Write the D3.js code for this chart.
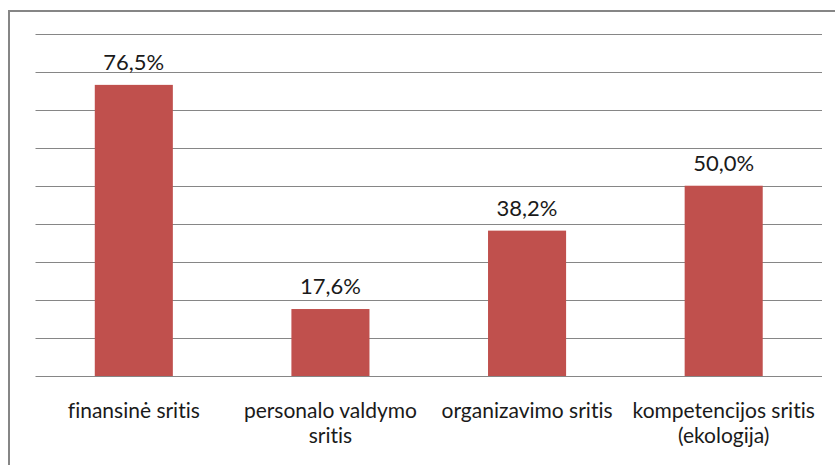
<!DOCTYPE html>
<html>
  <head>
    <style>
      body { margin: 0; background: #fff; }
      svg { font-family: Lato, "Open Sans", sans-serif; font-variant-ligatures: none; }
      .grid line { stroke: #868686; stroke-width: 1; }
      .bar { fill: #C0504D; }
      .val { font-size: 22px; fill: #1a1a1a; text-anchor: middle; }
      .cat { font-size: 21px; fill: #1a1a1a; text-anchor: middle; }
    </style>
    <script src="https://d3js.org/d3.v7.min.js"></script>
  </head>
  <body>
    <div id="chart"></div>
    <script>
// data
var categories = ["finansinė sritis", "personalo valdymo sritis", "organizavimo sritis", "kompetencijos sritis (ekologija)"];
var catLines = [["finansinė sritis"], ["personalo valdymo", "sritis"], ["organizavimo sritis"], ["kompetencijos sritis", "(ekologija)"]];
var values = [76.5, 17.6, 38.2, 50.0];
var gridTicks = [0, 10, 20, 30, 40, 50, 60, 70, 80, 90];

var width = 835, height = 465;
var plotLeft = 35.5, plotRight = 822, plotTop = 33.5, plotBottom = 376;

var svg = d3.select("#chart").append("svg")
  .attr("width", width)
  .attr("height", height);

// outer frame (runs off the right/bottom edge)
svg.append("rect")
  .attr("x", 9).attr("y", 11)
  .attr("width", 840).attr("height", 470)
  .attr("fill", "none")
  .attr("stroke", "#868686")
  .attr("stroke-width", 2);

var x = d3.scaleBand()
  .domain(categories)
  .range([plotLeft, plotRight])
  .padding(0);

var y = d3.scaleLinear()
  .domain([0, 90])
  .range([plotBottom, plotTop]);

// gridlines
svg.append("g").attr("class", "grid")
  .selectAll("line")
  .data(gridTicks).enter()
  .append("line")
  .attr("x1", plotLeft).attr("x2", plotRight)
  .attr("y1", d => Math.round(y(d)) + 0.5)
  .attr("y2", d => Math.round(y(d)) + 0.5);

var barW = x.bandwidth() * 0.397;

svg.selectAll(".bar")
  .data(values).enter()
  .append("rect")
  .attr("class", "bar")
  .attr("x", (d, i) => x(categories[i]) + x.bandwidth() / 2 - barW / 2)
  .attr("y", d => y(d))
  .attr("width", barW)
  .attr("height", d => y(0) - y(d));

svg.selectAll(".val")
  .data(values).enter()
  .append("text")
  .attr("class", "val")
  .attr("x", (d, i) => x(categories[i]) + x.bandwidth() / 2)
  .attr("y", d => y(d) - 15)
  .text(d => d.toFixed(1).replace(".", ",") + "%");

// category labels
var cat = svg.selectAll(".cat")
  .data(catLines).enter()
  .append("text")
  .attr("class", "cat")
  .attr("x", (d, i) => x(categories[i]) + x.bandwidth() / 2)
  .attr("y", 418);

cat.selectAll("tspan")
  .data(d => d).enter()
  .append("tspan")
  .attr("x", function() { return d3.select(this.parentNode).attr("x"); })
  .attr("dy", (d, i) => i === 0 ? 0 : 25)
  .text(d => d);
    </script>
  </body>
</html>
